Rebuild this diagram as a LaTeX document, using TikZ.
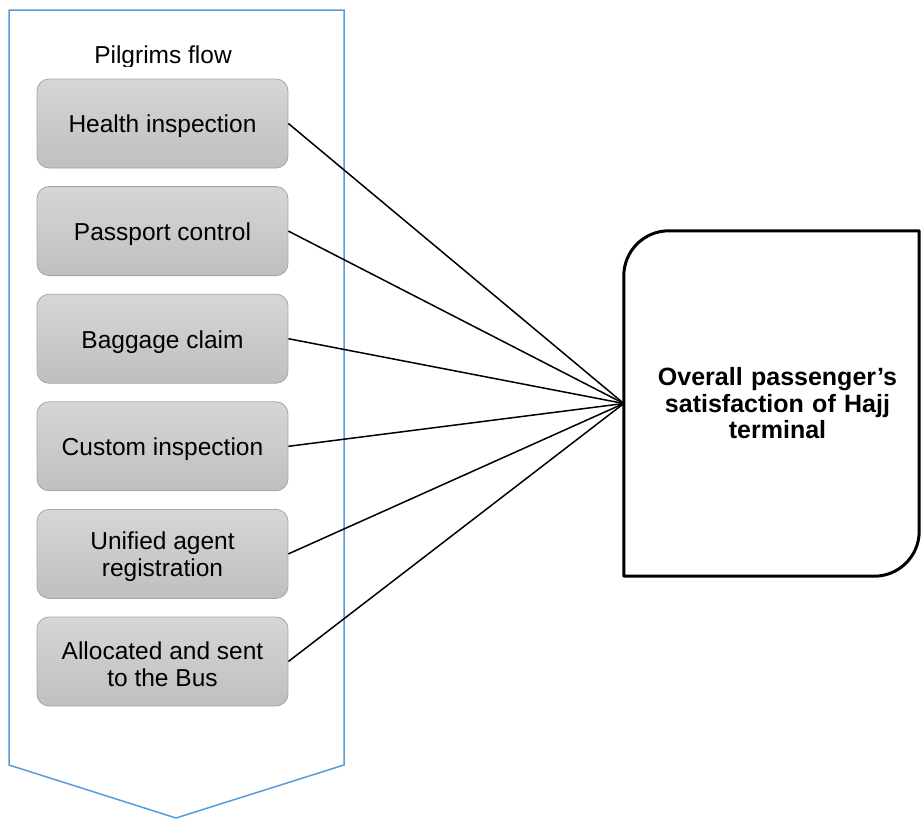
\documentclass[tikz,border=0pt]{standalone}
\usepackage{fontspec}
\setmainfont{Liberation Sans}
\usetikzlibrary{calc}
\definecolor{flowblue}{HTML}{5B9BD5}
\definecolor{boxedge}{HTML}{A6A6A6}
\definecolor{boxtop}{HTML}{D6D6D6}
\definecolor{boxbot}{HTML}{BFBFBF}
\begin{document}
\begin{tikzpicture}[x=1pt,y=-1pt,
  stagebox/.style={draw=boxedge, line width=0.8pt, rounded corners=12pt,
    top color=boxtop, bottom color=boxbot,
    minimum width=251pt, minimum height=89pt, inner sep=0pt,
    label={[stagetext]center:#1}},
  stagetext/.style={yshift=-3pt, inner sep=0pt, align=center,
    font=\fontsize{24.5}{27}\selectfont},
  link/.style={black, line width=1.5pt},
  outcome/.style={minimum width=307pt, minimum height=345pt, inner sep=0pt,
    text width=280pt, align=center,
    font=\bfseries\fontsize{25}{26.5}\selectfont}]
\useasboundingbox (0,0) rectangle (921,819);

% downward chevron framing the pilgrims' stages
\draw[flowblue, line width=1.5pt, line join=miter]
  (9,10) -- (344,10) -- (344,765) -- (176,818) -- (9,765) -- cycle;
\begin{scope}
  \clip (20,20) rectangle (330,66);
  \node[anchor=base, font=\fontsize{24.5}{27}\selectfont] (title) at (163,63) {Pilgrims flow};
\end{scope}

% stages
\node[stagebox={Health inspection}] (s1) at (162.5,123.5) {};
\node[stagebox={Passport control}] (s2) at (162.5,231.1) {};
\node[stagebox={Baggage claim}] (s3) at (162.5,338.7) {};
\node[stagebox={Custom inspection}] (s4) at (162.5,446.3) {};
\node[stagebox={Unified agent\\registration}] (s5) at (162.5,553.9) {};
\node[stagebox={Allocated and sent\\to the Bus}] (s6) at (162.5,661.5) {};

% overall satisfaction box (right side runs to the page edge)
\node[outcome] (sat) at (777.5,403.5) {Overall passenger’s\\satisfaction of Hajj\\terminal};
\draw[line width=3pt, line join=round]
  (sat.south west) -- ([yshift=-45pt]sat.north west)
  arc[start angle=180, end angle=90, radius=45pt]
  -- ([xshift=-12pt]sat.north east) -- ([xshift=-12pt,yshift=45pt]sat.south east)
  arc[start angle=0, end angle=-90, radius=45pt]
  -- cycle;

% connectors
\foreach \s in {s1,s2,s3,s4,s5,s6}
  \draw[link] (\s.east) -- (sat.west);
\end{tikzpicture}
\end{document}
